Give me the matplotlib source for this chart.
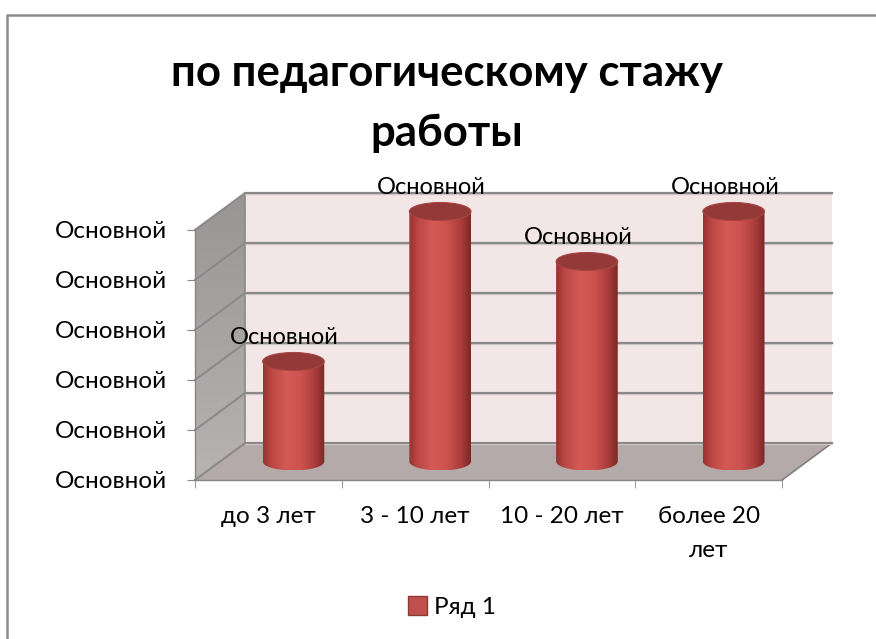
import numpy as np
import matplotlib
matplotlib.use('Agg')
import matplotlib.pyplot as plt
from matplotlib.patches import Polygon, Ellipse, Rectangle
from matplotlib.lines import Line2D
from matplotlib.colors import LinearSegmentedColormap

plt.rcParams['font.family'] = ['Lato', 'DejaVu Sans']

# data
categories = ['до 3 лет', '3 - 10 лет', '10 - 20 лет', 'более 20\nлет']
values = [2, 5, 4, 5]
y_ticks = [0, 1, 2, 3, 4, 5]
y_tick_labels = ['Основной'] * 6
bar_labels = ['Основной'] * 4
series_name = 'Ряд 1'
title = 'по педагогическому стажу\nработы'

W, H = 876, 639
fig = plt.figure(figsize=(W / 100, H / 100), dpi=100)
ax = fig.add_axes([195 / W, 1 - 480 / H, 587 / W, 250 / H])
ax.set_autoscale_on(False)
x0, x1 = -0.5, len(categories) - 0.5
ymax = max(y_ticks)
ax.set_xlim(x0, x1)
ax.set_ylim(0, ymax)

# depth offset of the pseudo 3d box (data units)
DX = 50 / 146.5
DY = 37 / 50
grid_c = '#8a8a8a'


def grad_fill(xy, cmap, horizontal, zorder):
    patch = Polygon(xy, closed=True, facecolor='none', edgecolor='none',
                    clip_on=False)
    ax.add_patch(patch)
    xy = np.asarray(xy)
    g = np.linspace(0, 1, 256)
    g = g.reshape(1, -1) if horizontal else g.reshape(-1, 1)
    im = ax.imshow(g, cmap=cmap, aspect='auto', origin='lower', zorder=zorder,
                   extent=[xy[:, 0].min(), xy[:, 0].max(),
                           xy[:, 1].min(), xy[:, 1].max()],
                   interpolation='bilinear')
    im.set_clip_box(fig.bbox)
    im.set_clip_path(patch)


# back wall
ax.add_patch(Rectangle((x0 + DX, DY), x1 - x0, ymax, facecolor='#f3e6e6',
                       edgecolor='none', clip_on=False, zorder=0))
# side wall
side_cmap = LinearSegmentedColormap.from_list('side', ['#b8b3b3', '#9a9595'])
grad_fill([(x0, 0), (x0 + DX, DY), (x0 + DX, ymax + DY), (x0, ymax)],
          side_cmap, False, 0.5)
# floor
ax.add_patch(Polygon([(x0, 0), (x1, 0), (x1 + DX, DY), (x0 + DX, DY)],
                     closed=True, facecolor='#b5aaaa', edgecolor='none',
                     clip_on=False, zorder=0.6))
ax.plot([x1, x1 + DX], [0, DY], color='#7f7f7f', lw=1.2, clip_on=False, zorder=0.7)
ax.plot([x0 + DX, x0 + DX], [DY, ymax + DY], color=grid_c, lw=1.2,
        clip_on=False, zorder=0.7)

# gridlines on back and side walls
for k in y_ticks:
    ax.plot([x0 + DX, x1 + DX], [k + DY, k + DY], color='#d0c8c8',
            lw=2.4, clip_on=False, zorder=0.75, solid_capstyle='butt')
    ax.plot([x0, x0 + DX, x1 + DX], [k, k + DY, k + DY], color=grid_c,
            lw=1.5, clip_on=False, zorder=0.8)

# cylinders
cyl_cmap = LinearSegmentedColormap.from_list(
    'cyl', [(0, '#973230'), (0.15, '#bd4845'), (0.38, '#d45a56'),
            (0.62, '#cc524f'), (0.85, '#a83c3a'), (1, '#7a2826')])
hw = 0.21
eh = 0.36
t = np.linspace(np.pi, 2 * np.pi, 60)
for i, v in enumerate(values):
    xc = i + DX / 2
    yb = DY / 2
    yt = v + DY / 2
    body = [(xc - hw, yt), (xc - hw, yb)]
    body += list(zip(xc + hw * np.cos(t), yb + eh / 2 * np.sin(t)))
    body += [(xc + hw, yt)]
    grad_fill(body, cyl_cmap, True, 2 + i)
    ax.add_patch(Ellipse((xc, yt), 2 * hw, eh, facecolor='#933a38',
                         edgecolor='#a64543', lw=0.8, clip_on=False,
                         zorder=2.5 + i))
    ax.text(xc - 0.06, yt + eh / 2 + 0.3, bar_labels[i], ha='center',
            va='center', fontsize=17, color='black', zorder=10, clip_on=False)

# axes
for s in ['top', 'right']:
    ax.spines[s].set_visible(False)
for s in ['left', 'bottom']:
    ax.spines[s].set_color('#868686')
    ax.spines[s].set_linewidth(1.0)
    ax.spines[s].set_zorder(1)
ax.set_yticks(y_ticks)
ax.set_yticklabels(y_tick_labels, fontsize=17.5)
ax.set_xticks(range(len(categories)))
ax.set_xticklabels(categories, fontsize=17.5, linespacing=1.75, va='top')
ax.set_xticks(np.arange(x0, x1 + 0.5, 1), minor=True)
ax.tick_params(axis='y', length=6, color='#868686', pad=14)
ax.tick_params(axis='x', which='major', length=0, pad=19)
ax.tick_params(axis='x', which='minor', length=6, color='#868686')
ax.set_facecolor('none')

# title
fig.text(447 / W, 1 - 103 / H, title, ha='center', va='center', fontsize=31.5,
         fontweight='bold', linespacing=1.6)

# legend
leg = fig.legend([Rectangle((0, 0), 1, 1, facecolor='#c0504d', edgecolor='#8c3a38')],
                 [series_name], loc='center', bbox_to_anchor=(452 / W, 1 - 607 / H),
                 frameon=False, fontsize=17.5, handlelength=0.8, handleheight=0.8,
                 handletextpad=0.3)

# chart border: only the top and left edges fall inside the picture
bx, by = 7 / W, 1 - 15 / H
fig.add_artist(Line2D([bx, bx, 1.0], [0.0, by, by], transform=fig.transFigure,
                      color='#8c8c8c', lw=1.8))

fig.savefig('out.png', dpi=100)
